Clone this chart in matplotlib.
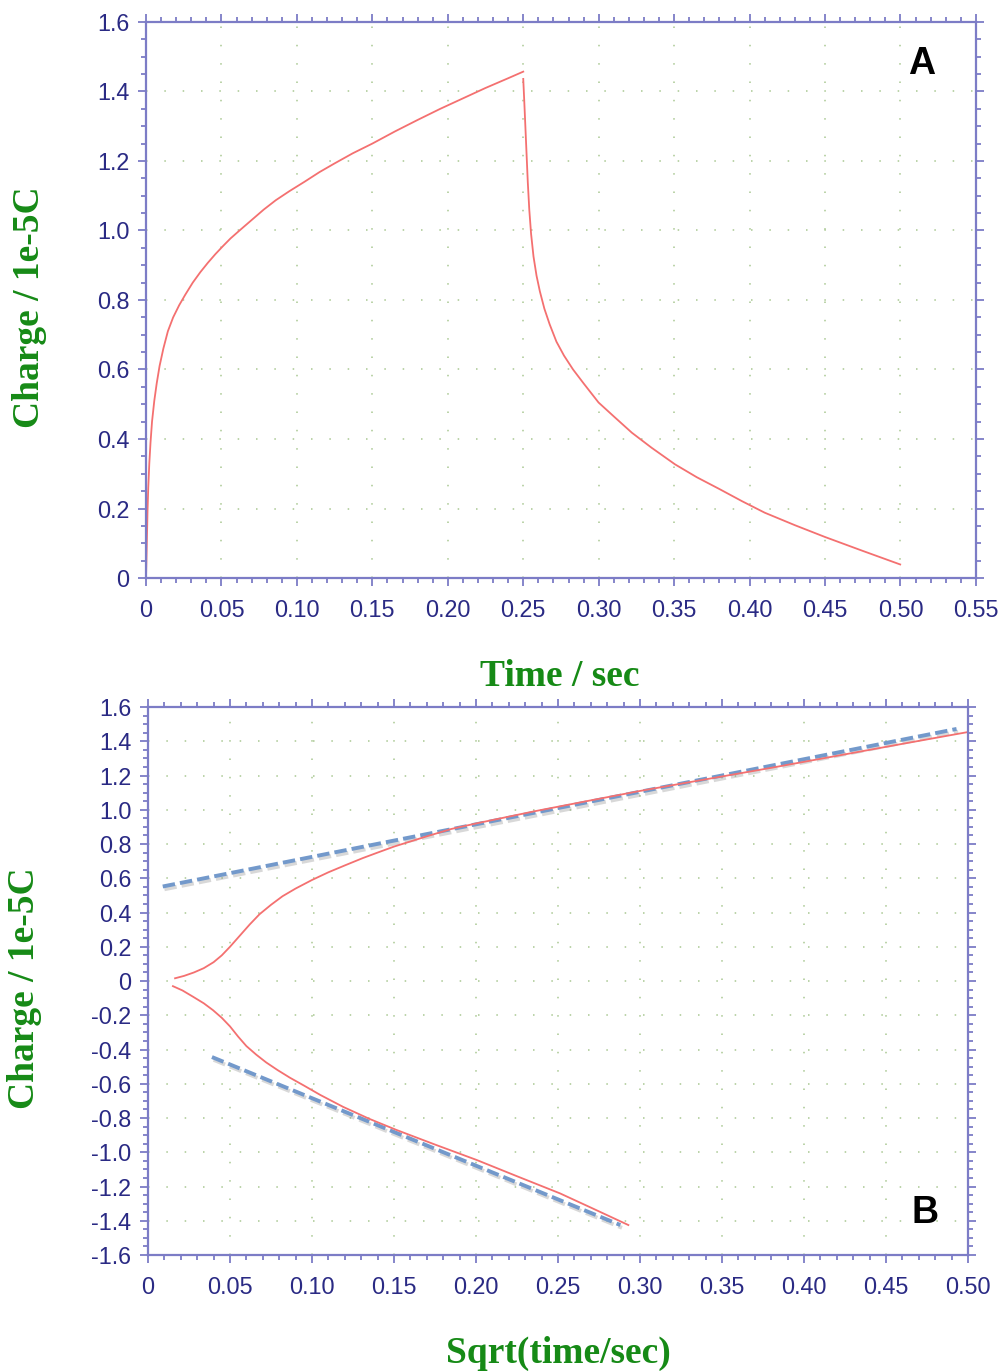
import matplotlib
matplotlib.use('Agg')
import matplotlib.pyplot as plt
import matplotlib.patheffects as pe
from matplotlib.ticker import MultipleLocator, FixedLocator, FixedFormatter

# Panel A: charge vs time (step up, then step back at 0.25 s)
t_charge = [0, 0.0003, 0.0006, 0.001, 0.0015, 0.0022, 0.003, 0.004, 0.0055,
            0.0071, 0.009, 0.0115, 0.0145, 0.018, 0.022, 0.026, 0.031, 0.036,
            0.041, 0.046, 0.051, 0.056, 0.062, 0.070, 0.078, 0.086, 0.095,
            0.105, 0.115, 0.125, 0.137, 0.150, 0.165, 0.180, 0.195, 0.210,
            0.225, 0.240, 0.250]
q_charge = [0, 0.05, 0.11, 0.19, 0.26, 0.33, 0.39, 0.45, 0.51,
            0.56, 0.61, 0.66, 0.71, 0.75, 0.785, 0.815, 0.85, 0.88,
            0.907, 0.932, 0.955, 0.977, 1.0, 1.03, 1.06, 1.087, 1.113,
            1.14, 1.168, 1.193, 1.222, 1.25, 1.285, 1.318, 1.35, 1.38,
            1.41, 1.438, 1.457]
t_decay = [0.25, 0.2508, 0.2515, 0.2522, 0.253, 0.254, 0.2552, 0.2568, 0.2588,
           0.261, 0.264, 0.2675, 0.272, 0.277, 0.283, 0.290, 0.2999, 0.310,
           0.322, 0.335, 0.3506, 0.365, 0.380, 0.395, 0.410, 0.430, 0.450,
           0.475, 0.4998]
q_decay = [1.436, 1.36, 1.29, 1.22, 1.14, 1.06, 0.99, 0.925, 0.87,
           0.825, 0.775, 0.73, 0.68, 0.64, 0.60, 0.56, 0.505, 0.465,
           0.418, 0.375, 0.327, 0.29, 0.256, 0.221, 0.188, 0.152, 0.118,
           0.078, 0.039]

# Panel B: Anson plot
x_fwd = [0.0165, 0.022, 0.028, 0.034, 0.040, 0.045, 0.050, 0.056, 0.062,
         0.068, 0.075, 0.082, 0.090, 0.100, 0.110, 0.120, 0.131, 0.140,
         0.150, 0.160, 0.170, 0.185, 0.200, 0.235, 0.270, 0.300, 0.3366,
         0.380, 0.420, 0.460, 0.500]
q_fwd = [0.016, 0.03, 0.05, 0.075, 0.11, 0.15, 0.20, 0.265, 0.33,
         0.39, 0.445, 0.495, 0.54, 0.59, 0.635, 0.675, 0.718, 0.75,
         0.785, 0.815, 0.845, 0.888, 0.92, 0.99, 1.055, 1.11, 1.172,
         1.245, 1.315, 1.385, 1.454]
x_rev = [0.0152, 0.021, 0.0275, 0.034, 0.0396, 0.045, 0.050, 0.055, 0.060,
         0.066, 0.072, 0.079, 0.0866, 0.095, 0.105, 0.119, 0.135, 0.1516,
         0.175, 0.2004, 0.225, 0.2512, 0.270, 0.2929]
q_rev = [-0.03, -0.055, -0.092, -0.13, -0.17, -0.215, -0.265, -0.325, -0.38,
         -0.43, -0.475, -0.52, -0.565, -0.61, -0.665, -0.735, -0.805, -0.87,
         -0.955, -1.045, -1.14, -1.24, -1.323, -1.425]
fit_fwd_x = [0.009, 0.493]
fit_fwd_q = [0.552, 1.472]
fit_rev_x = [0.039, 0.288]
fit_rev_q = [-0.444, -1.425]

xticks_a = [0, 0.05, 0.10, 0.15, 0.20, 0.25, 0.30, 0.35, 0.40, 0.45, 0.50, 0.55]
xlabels_a = ['0', '0.05', '0.10', '0.15', '0.20', '0.25', '0.30', '0.35',
             '0.40', '0.45', '0.50', '0.55']
yticks_a = [0, 0.2, 0.4, 0.6, 0.8, 1.0, 1.2, 1.4, 1.6]
ylabels_a = ['0', '0.2', '0.4', '0.6', '0.8', '1.0', '1.2', '1.4', '1.6']
xticks_b = [0, 0.05, 0.10, 0.15, 0.20, 0.25, 0.30, 0.35, 0.40, 0.45, 0.50]
xlabels_b = ['0', '0.05', '0.10', '0.15', '0.20', '0.25', '0.30', '0.35',
             '0.40', '0.45', '0.50']
yticks_b = [-1.6, -1.4, -1.2, -1.0, -0.8, -0.6, -0.4, -0.2, 0,
            0.2, 0.4, 0.6, 0.8, 1.0, 1.2, 1.4, 1.6]
ylabels_b = ['-1.6', '-1.4', '-1.2', '-1.0', '-0.8', '-0.6', '-0.4', '-0.2', '0',
             '0.2', '0.4', '0.6', '0.8', '1.0', '1.2', '1.4', '1.6']

AXIS_COL = '#7c7cc6'
TICK_COL = '#2a2a84'
LABEL_COL = '#168a16'
RED = '#f47070'
BLUE = '#7399cb'


def style_axes(ax, xt, xl, yt, yl, xminor, yminor):
    ax.xaxis.set_major_locator(FixedLocator(xt))
    ax.xaxis.set_major_formatter(FixedFormatter(xl))
    ax.yaxis.set_major_locator(FixedLocator(yt))
    ax.yaxis.set_major_formatter(FixedFormatter(yl))
    ax.xaxis.set_minor_locator(MultipleLocator(xminor))
    ax.yaxis.set_minor_locator(MultipleLocator(yminor))
    for s in ax.spines.values():
        s.set_color(AXIS_COL)
        s.set_linewidth(1.6)
    ax.tick_params(which='both', direction='out', top=True, right=True,
                   color=AXIS_COL, width=1.3)
    ax.tick_params(which='major', length=6, pad=6, labelsize=16.8,
                   labelcolor=TICK_COL)
    ax.tick_params(axis='x', which='major', pad=9)
    ax.tick_params(which='minor', length=3.5)
    for lab in ax.get_xticklabels() + ax.get_yticklabels():
        lab.set_family('Liberation Sans')
    ax.grid(which='major', color='#a9c892', linestyle=(0, (1, 11)), linewidth=1.1)


fig = plt.figure(figsize=(10.02, 13.71), dpi=100)

# ---- panel A ----
ax1 = fig.add_axes([0.1457, 0.5784, 0.8283, 0.4056])
ax1.plot(t_charge, q_charge, color=RED, lw=1.3)
ax1.plot(t_decay, q_decay, color=RED, lw=1.3)
ax1.set_xlim(0, 0.55)
ax1.set_ylim(0, 1.6)
style_axes(ax1, xticks_a, xlabels_a, yticks_a, ylabels_a, 0.01, 0.05)
ax1.text(0.934, 0.925, 'A', transform=ax1.transAxes, fontsize=27,
         fontweight='bold', family='Liberation Sans', ha='center', va='center')

fig.text(0.559, 1 - 677 / 1371, 'Time / sec', fontsize=27, fontweight='bold',
         family='Liberation Serif', color=LABEL_COL, ha='center', va='center')
fig.text(30 / 1002, 1 - 307 / 1371, 'Charge / 1e-5C', fontsize=27,
         fontweight='bold', family='Liberation Serif', color=LABEL_COL,
         rotation=90, ha='center', va='center')

# ---- panel B ----
ax2 = fig.add_axes([0.1477, 0.0846, 0.8184, 0.3997])
shadow = [pe.SimpleLineShadow(offset=(1.2, -2.0), shadow_color='gray', alpha=0.3),
          pe.Normal()]
ax2.plot(fit_fwd_x, fit_fwd_q, color=BLUE, lw=2.8, dashes=(3.2, 1.3),
         path_effects=shadow)
ax2.plot(fit_rev_x, fit_rev_q, color=BLUE, lw=2.8, dashes=(3.2, 1.3),
         path_effects=shadow)
ax2.plot(x_fwd, q_fwd, color=RED, lw=1.3)
ax2.plot(x_rev, q_rev, color=RED, lw=1.3)
ax2.set_xlim(0, 0.5)
ax2.set_ylim(-1.6, 1.6)
style_axes(ax2, xticks_b, xlabels_b, yticks_b, ylabels_b, 0.01, 0.05)
ax2.text(0.948, 0.077, 'B', transform=ax2.transAxes, fontsize=27,
         fontweight='bold', family='Liberation Sans', ha='center', va='center')

fig.text(558 / 1002, 1 - 1353 / 1371, 'Sqrt(time/sec)', fontsize=27,
         fontweight='bold', family='Liberation Serif', color=LABEL_COL,
         ha='center', va='center')
fig.text(25 / 1002, 1 - 988 / 1371, 'Charge / 1e-5C', fontsize=27,
         fontweight='bold', family='Liberation Serif', color=LABEL_COL,
         rotation=90, ha='center', va='center')

fig.savefig('out.png', dpi=100)
